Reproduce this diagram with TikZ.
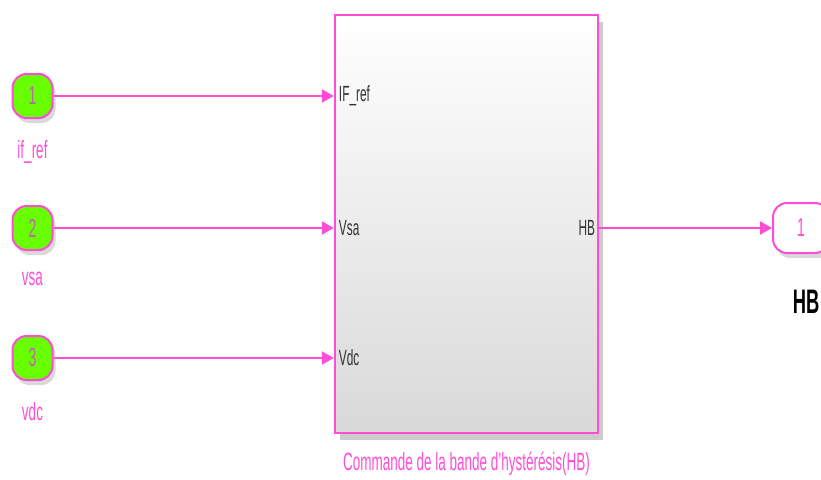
\documentclass[tikz,border=0pt]{standalone}
\usepackage{fontspec}
\setmainfont{Liberation Sans}[FakeStretch=0.54]
\usepackage{tikz}
\usetikzlibrary{positioning,arrows.meta,shadows}
\definecolor{sigpink}{RGB}{255,77,214}
\definecolor{portgreen}{RGB}{104,255,0}
\def\fs#1{\fontsize{#1}{#1}\selectfont}

\begin{document}
\begin{tikzpicture}[x=1pt,y=-1pt]
\tikzstyle{inport}=[rectangle, rounded corners=14pt, minimum width=40pt, minimum height=44pt, line width=2pt, draw=sigpink, fill=portgreen, text=sigpink!45!gray, font=\fs{26}, drop shadow={shadow xshift=3pt, shadow yshift=-5pt, opacity=0.3}]
\tikzstyle{outport}=[inport, fill=white, text=sigpink, minimum width=56pt, minimum height=50pt]
\tikzstyle{sub}=[rectangle, minimum width=263pt, minimum height=418pt, line width=2.5pt, draw=sigpink, top color=white, bottom color=black!15, drop shadow={shadow xshift=5pt, shadow yshift=-7pt, opacity=0.4}]
\tikzstyle{plabel}=[inner sep=0pt, font=\fs{22}, text=black!80]
\tikzstyle{inlabel}=[text=sigpink, font=\fs{25}, label distance=18pt]
\tikzstyle{connect}=[-{Triangle[length=12pt,width=13pt]}, line width=2.5pt, draw=sigpink]
\useasboundingbox (0,0) rectangle (821,479);

  \node[inport] (in1) at (32.5,96) [label={[inlabel]below:{if\_ref}}] {1};
  \node[inport] (in2) at (32.5,228) [label={[inlabel]below:{vsa}}] {2};
  \node[inport] (in3) at (32.5,358) [label={[inlabel]below:{vdc}}] {3};

  \node[sub] (hb) at (466.5,224) {};
  \node[text=sigpink, font=\fs{25}, below=14pt of hb] (cap) {Commande de la bande d'hystérésis(HB)};

  \node[plabel, anchor=west] (pIF) at ([xshift=5pt]hb.west |- in1) {IF\_ref};
  \node[plabel, anchor=west] (pVsa) at ([xshift=5pt]hb.west |- in2) {Vsa};
  \node[plabel, anchor=west] (pVdc) at ([xshift=5pt]hb.west |- in3) {Vdc};
  \node[plabel, anchor=east] (pHB) at ([xshift=-4pt]hb.east |- in2) {HB};

  \node[outport] (out1) at (801,228) {1};
  \node[font=\bfseries\fs{34}] (outlbl) at (806,302) {HB};

  \path (in1) edge [connect] (in1 -| hb.west);
  \path (in2) edge [connect] (in2 -| hb.west);
  \path (in3) edge [connect] (in3 -| hb.west);
  \path (hb.east |- out1) edge [connect] (out1);
\end{tikzpicture}
\end{document}
